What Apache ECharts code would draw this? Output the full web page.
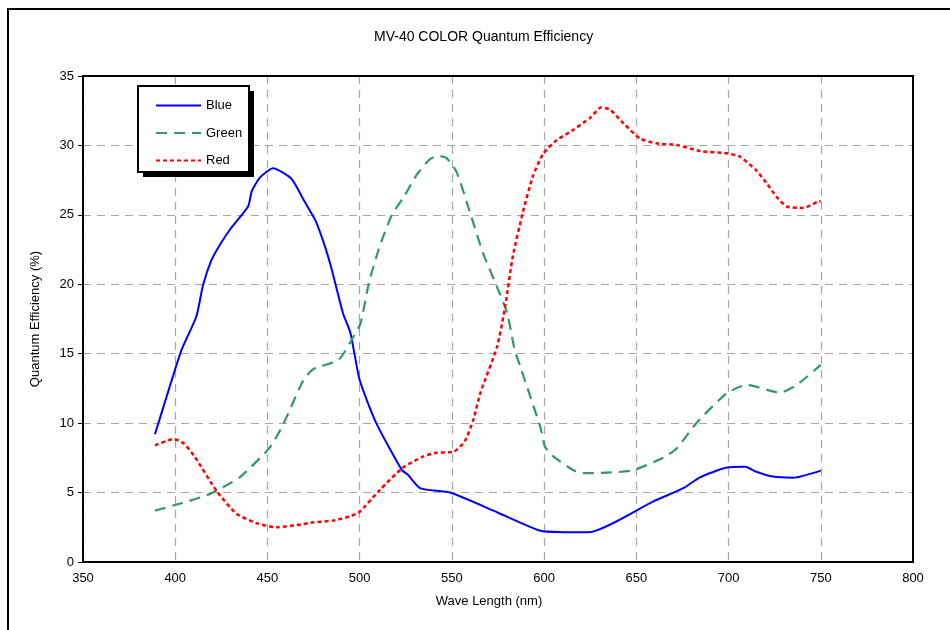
<!DOCTYPE html>
<html>
<head>
<meta charset="utf-8">
<script src="https://cdn.jsdelivr.net/npm/echarts@6/dist/echarts.min.js"></script>
</head>
<body style="margin:0;background:#fff;">
<div id="main" style="width: 950px;height:630px;"></div>
<script>
    // 数据：波长 (nm) 与量子效率 (%)
    var blueWave = [389, 400, 403.5, 411.5, 415, 419.5, 424, 430, 439.5, 441.5, 446, 453, 463, 469.5, 476, 481, 485, 491, 495, 500, 509, 523, 526, 533, 549, 575, 598, 610, 624, 659, 676, 684.5, 699, 709, 715, 724, 735, 750];
    var blueQE = [9.2, 13.9, 15.3, 17.7, 19.9, 21.7, 22.8, 24.0, 25.6, 26.7, 27.7, 28.35, 27.6, 26.1, 24.6, 22.8, 21.0, 17.9, 16.5, 13.1, 10.0, 6.6, 6.3, 5.3, 5.0, 3.55, 2.25, 2.15, 2.14, 4.35, 5.35, 6.1, 6.8, 6.86, 6.5, 6.15, 6.07, 6.58];

    var greenWave = [389, 402.5, 417, 426, 435, 451, 458.5, 469.5, 475, 488.5, 496.5, 500.5, 505, 511, 517.5, 524, 531, 538, 542.5, 547, 552.5, 560, 567, 574.5, 580, 584, 587, 598, 600.5, 605, 616, 621, 634, 648, 664.5, 672, 682.5, 699, 710, 728, 737, 750];
    var greenQE = [3.7, 4.2, 4.8, 5.4, 6.1, 8.2, 9.9, 13.1, 13.9, 14.55, 16.2, 17.2, 20.1, 22.8, 25.0, 26.3, 27.9, 29.0, 29.25, 29.1, 28.1, 25.1, 22.2, 19.8, 17.9, 15.3, 14.1, 9.7, 8.3, 7.6, 6.6, 6.4, 6.43, 6.6, 7.5, 8.2, 10.0, 12.15, 12.75, 12.2, 12.75, 14.2];

    var redWave = [389, 399, 404.5, 410.5, 422.5, 433, 444, 455, 466, 475, 485.5, 495, 500, 511, 523.5, 534.5, 541.5, 551, 557, 561.5, 565.5, 574.5, 579, 583, 588.5, 594, 599.5, 607, 615, 625, 631, 636, 643, 652, 661, 672, 684.5, 699, 706, 715, 720.5, 726, 731.5, 740.5, 748.5, 750];
    var redQE = [8.4, 8.85, 8.55, 7.6, 5.1, 3.5, 2.8, 2.5, 2.66, 2.86, 2.98, 3.3, 3.62, 5.2, 6.8, 7.6, 7.87, 7.94, 8.7, 10.2, 12.2, 15.5, 18.5, 22.0, 25.2, 27.8, 29.4, 30.4, 31.05, 32.0, 32.75, 32.55, 31.6, 30.5, 30.15, 30.03, 29.6, 29.43, 29.2, 28.2, 27.3, 26.3, 25.6, 25.5, 25.95, 26.0];

    function pairs(xs, ys) {
        return xs.map(function (x, i) { return [x, ys[i]]; });
    }

    var font = '"Liberation Sans", Arial, sans-serif';
    var myChart = echarts.init(document.getElementById('main'));

    var option = {
        backgroundColor: '#fff',
        animation: false,
        textStyle: {fontFamily: font, color: '#000'},
        title: {
            text: 'MV-40 COLOR Quantum Efficiency',
            left: 369,
            top: 25,
            textStyle: {fontFamily: font, fontSize: 14, fontWeight: 'normal', color: '#000'}
        },
        graphic: [
            // 外框
            {
                type: 'rect', silent: true,
                shape: {x: 8, y: 9, width: 1000, height: 700},
                style: {fill: 'none', stroke: '#000', lineWidth: 2}
            },
            // 绘图区边框
            {
                type: 'rect', silent: true, z: 10,
                shape: {x: 83, y: 76, width: 830, height: 486},
                style: {fill: 'none', stroke: '#000', lineWidth: 2}
            },
            // 图例阴影和方框
            {
                type: 'rect', silent: true, z: 1,
                shape: {x: 143, y: 91, width: 111, height: 86},
                style: {fill: '#000'}
            },
            {
                type: 'rect', silent: true, z: 2,
                shape: {x: 138, y: 86, width: 111, height: 86},
                style: {fill: '#fff', stroke: '#000', lineWidth: 2}
            }
        ],
        legend: {
            orient: 'vertical',
            left: 138,
            top: 86,
            z: 20,
            padding: [13, 8, 8, 17],
            itemWidth: 45,
            itemHeight: 14,
            itemGap: 14.5,
            itemStyle: {color: 'rgba(0,0,0,0)', borderWidth: 0, opacity: 0},
            textStyle: {fontFamily: font, fontSize: 13, color: '#000'},
            data: ['Blue', 'Green', 'Red']
        },
        grid: {
            left: 83, right: 37, top: 76, bottom: 68
        },
        xAxis: {
            type: 'value',
            min: 350, max: 800, interval: 50,
            name: 'Wave Length (nm)',
            nameLocation: 'middle',
            nameGap: 33,
            nameTextStyle: {fontFamily: font, fontSize: 13, color: '#000', padding: [0, 18, 0, 0]},
            axisLine: {lineStyle: {color: '#000', width: 2}},
            axisTick: {show: false},
            axisLabel: {margin: 10, fontFamily: font, fontSize: 13, color: '#000'},
            splitLine: {lineStyle: {color: '#a6a6a6', width: 1.2, type: [8, 6]}}
        },
        yAxis: {
            type: 'value',
            min: 0, max: 35, interval: 5,
            name: 'Quantum Efficiency (%)',
            nameLocation: 'middle',
            nameGap: 41,
            nameTextStyle: {fontFamily: font, fontSize: 13, color: '#000'},
            axisLine: {show: true, lineStyle: {color: '#000', width: 2}},
            axisTick: {show: true, length: 5, lineStyle: {color: '#000'}},
            axisLabel: {margin: 9, fontFamily: font, fontSize: 13, color: '#000'},
            splitLine: {lineStyle: {color: '#a6a6a6', width: 1.2, type: [8, 6]}}
        },
        series: [
            {
                name: 'Blue', type: 'line', symbol: 'none', smooth: 0.2,
                itemStyle: {color: '#0000ff'},
                lineStyle: {color: '#0000ff', width: 2},
                data: pairs(blueWave, blueQE)
            },
            {
                name: 'Green', type: 'line', symbol: 'none', smooth: 0.2,
                itemStyle: {color: '#339966'},
                lineStyle: {color: '#339966', width: 2.2, type: [11, 7]},
                data: pairs(greenWave, greenQE)
            },
            {
                name: 'Red', type: 'line', symbol: 'none', smooth: 0.2,
                itemStyle: {color: '#ff0000'},
                lineStyle: {color: '#ff0000', width: 2.5, type: [4, 3]},
                data: pairs(redWave, redQE)
            }
        ]
    };
    myChart.setOption(option);
</script>
</body>
</html>
